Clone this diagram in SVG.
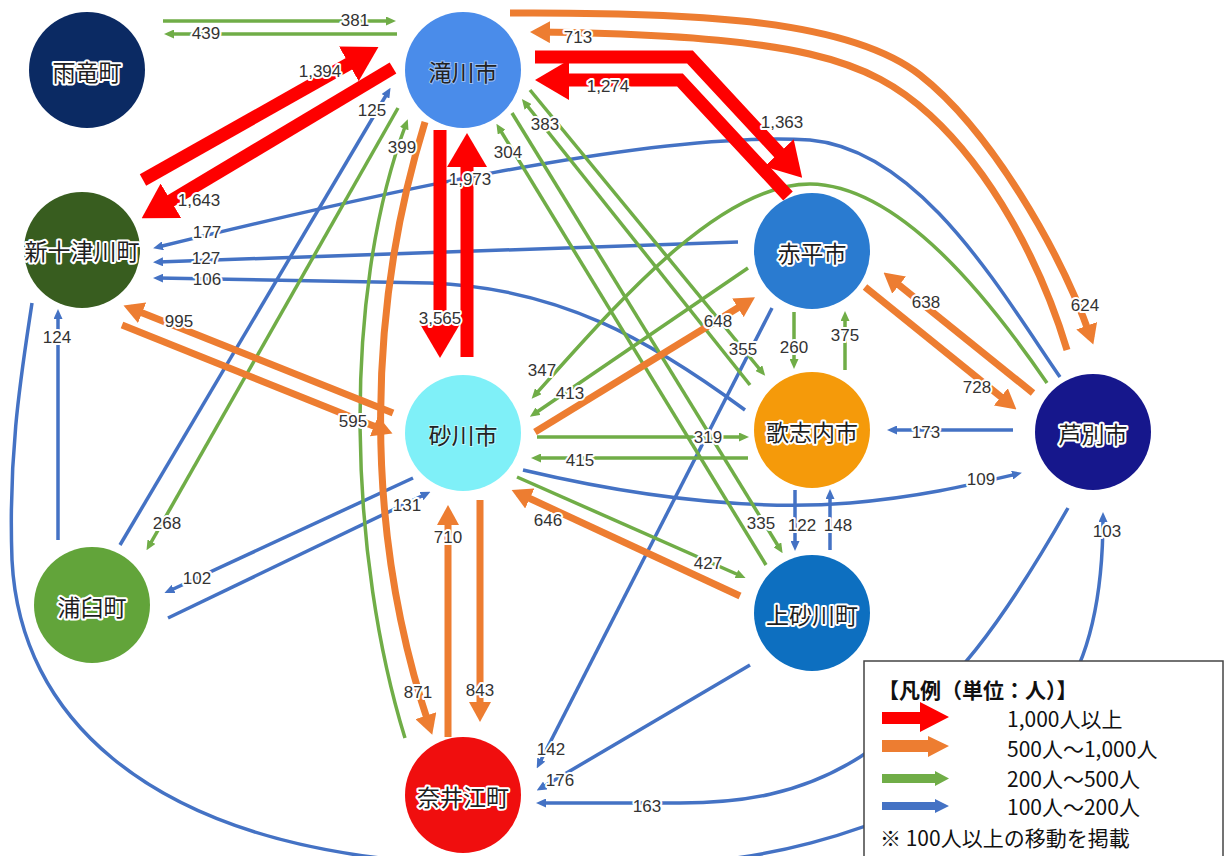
<svg xmlns="http://www.w3.org/2000/svg" width="1227" height="856" viewBox="0 0 1227 856">
  <defs>
    <style>
      .b { fill: none; stroke: #4472c4; stroke-width: 3.5; marker-end: url(#mB); }
      .g { fill: none; stroke: #70ad47; stroke-width: 3.5; marker-end: url(#mG); }
      .o { fill: none; stroke: #ed7d31; stroke-width: 7; marker-end: url(#mO); }
      .r { fill: none; stroke: #fe0000; stroke-width: 13; marker-end: url(#mR); }
      .nobar { marker-end: none; }
      .lbl { font-family: "Liberation Sans", "DejaVu Sans", sans-serif; font-size: 17px; fill: #333; text-anchor: middle; dominant-baseline: central; stroke: #fff; stroke-width: 4; stroke-linejoin: round; paint-order: stroke; }
      .nt { font-family: "Noto Sans CJK JP", "Noto Sans", sans-serif; font-size: 23px; fill: #1e1e1e; text-anchor: middle; dominant-baseline: central; stroke: #fff; stroke-width: 4; stroke-linejoin: round; paint-order: stroke; }
      .nt0 { font-family: "Noto Sans CJK JP", "Noto Sans", sans-serif; font-size: 23px; fill: #222; text-anchor: middle; dominant-baseline: central; stroke: #fff; stroke-opacity: 0.45; stroke-width: 2; paint-order: stroke; }
      .lg { font-family: "Noto Sans CJK JP", "Noto Sans", sans-serif; font-size: 21px; fill: #111; }
    </style>
    <marker id="mR" markerUnits="userSpaceOnUse" viewBox="0 0 34 40" markerWidth="34" markerHeight="40" refX="22" refY="20" orient="auto">
      <path d="M0,0 L34,20 L0,40 Z" fill="#fe0000"/>
    </marker>
    <marker id="mO" markerUnits="userSpaceOnUse" viewBox="0 0 20 22" markerWidth="20" markerHeight="22" refX="13" refY="11" orient="auto">
      <path d="M0,0 L20,11 L0,22 Z" fill="#ed7d31"/>
    </marker>
    <marker id="mG" markerUnits="userSpaceOnUse" viewBox="0 0 10 9" markerWidth="10" markerHeight="9" refX="5" refY="4.5" orient="auto">
      <path d="M0,0 L10,4.5 L0,9 Z" fill="#70ad47"/>
    </marker>
    <marker id="mB" markerUnits="userSpaceOnUse" viewBox="0 0 10 9" markerWidth="10" markerHeight="9" refX="5" refY="4.5" orient="auto">
      <path d="M0,0 L10,4.5 L0,9 Z" fill="#4472c4"/>
    </marker>
  </defs>

  <rect width="1227" height="856" fill="#fff"/>

  <!-- flows between towns -->
  <g id="connectors">
    <!-- 100-200 -->
    <path class="b" d="M1060,377 C1000,290 920,150 810,140 C650,130 350,200 158,247"/>
    <path class="b" d="M738,242 L158,262"/>
    <path class="b" d="M745,410 C650,340 560,288 430,283 L158,278"/>
    <path class="b" d="M120,545 L388,92"/>
    <path class="b" d="M58,540 L58,314"/>
    <path class="b" d="M32,303 C22,370 8,450 12,560 C20,720 150,830 380,858 L700,862 C850,850 1000,780 1060,700 C1095,650 1103,580 1103,517"/>
    <path class="b" d="M1068,508 C1010,610 950,700 860,757 C800,795 740,803 680,803 L541,803"/>
    <path class="b" d="M772,308 L539,764"/>
    <path class="b" d="M750,665 L541,788"/>
    <path class="b" d="M168,618 L426,494"/>
    <path class="b" d="M413,478 L169,591"/>
    <path class="b" d="M523,470 C650,500 760,510 850,503 C920,497 970,485 1017,474"/>
    <path class="b" d="M1013,430 L892,430"/>
    <path class="b" d="M795,490 L795,546"/>
    <path class="b" d="M830,550 L830,494"/>

    <!-- 200-500 -->
    <path class="g" d="M163,21 L391,21"/>
    <path class="g" d="M397,34 L169,34"/>
    <path class="g" d="M405,738 C350,560 340,300 406,124"/>
    <path class="g" d="M398,108 L149,546"/>
    <path class="g" d="M750,385 L525,103"/>
    <path class="g" d="M530,90 L762,372"/>
    <path class="g" d="M766,565 L499,128"/>
    <path class="g" d="M512,113 L780,549"/>
    <path class="g" d="M1047,383 C990,300 900,185 810,184 C720,184 620,300 535,395"/>
    <path class="g" d="M748,268 L534,414"/>
    <path class="g" d="M537,437 L744,437"/>
    <path class="g" d="M748,458 L536,458"/>
    <path class="g" d="M517,477 L741,576"/>
    <path class="g" d="M794,312 L794,364"/>
    <path class="g" d="M845,370 L845,316"/>

    <!-- 500-1,000 -->
    <path class="o" d="M510,13 C700,12 850,20 920,75 C990,130 1060,250 1091,338"/>
    <path class="o" d="M1067,350 C1040,260 990,170 930,115 C870,60 800,35 537,32"/>
    <path class="o" d="M393,413 L130,308"/>
    <path class="o" d="M122,325 L386,431"/>
    <path class="o" d="M425,122 C370,300 360,520 430,728"/>
    <path class="o" d="M448,737 L448,512"/>
    <path class="o" d="M480,500 L480,715"/>
    <path class="o" d="M740,596 L518,493"/>
    <path class="o" d="M535,432 L749,301"/>
    <path class="o" d="M1033,393 L889,277"/>
    <path class="o" d="M865,287 L1011,405"/>

    <!-- 1,000 and over -->
    <path class="r" d="M143,180 L368,53"/>
    <path class="r" d="M393,68 L152,212"/>
    <path class="r" d="M535,57 L690,57 L794,169"/>
    <path class="r" d="M788,196 L680,80 L547,80"/>
    <path class="r" d="M440,130 L440,346"/>
    <path class="r" d="M467,357 L467,145"/>

    <!-- counts -->
    <g>
      <text class="lbl" x="355" y="20">381</text>
      <text class="lbl" x="206" y="33">439</text>
      <text class="lbl" x="320" y="71">1,394</text>
      <text class="lbl" x="199" y="200">1,643</text>
      <text class="lbl" x="207" y="232">177</text>
      <text class="lbl" x="206" y="258">127</text>
      <text class="lbl" x="207" y="279">106</text>
      <text class="lbl" x="372" y="110">125</text>
      <text class="lbl" x="402" y="147">399</text>
      <text class="lbl" x="57" y="337">124</text>
      <text class="lbl" x="179" y="321">995</text>
      <text class="lbl" x="353" y="421">595</text>
      <text class="lbl" x="167" y="523">268</text>
      <text class="lbl" x="407" y="505">131</text>
      <text class="lbl" x="197" y="578">102</text>
      <text class="lbl" x="440" y="318">3,565</text>
      <text class="lbl" x="470" y="179">1,973</text>
      <text class="lbl" x="578" y="37">713</text>
      <text class="lbl" x="608" y="86">1,274</text>
      <text class="lbl" x="782" y="122">1,363</text>
      <text class="lbl" x="545" y="124">383</text>
      <text class="lbl" x="508" y="152">304</text>
      <text class="lbl" x="542" y="370">347</text>
      <text class="lbl" x="570" y="393">413</text>
      <text class="lbl" x="718" y="321">648</text>
      <text class="lbl" x="743" y="349">355</text>
      <text class="lbl" x="794" y="347">260</text>
      <text class="lbl" x="845" y="335">375</text>
      <text class="lbl" x="708" y="437">319</text>
      <text class="lbl" x="580" y="460">415</text>
      <text class="lbl" x="548" y="520">646</text>
      <text class="lbl" x="761" y="523">335</text>
      <text class="lbl" x="708" y="563">427</text>
      <text class="lbl" x="802" y="525">122</text>
      <text class="lbl" x="838" y="525">148</text>
      <text class="lbl" x="926" y="302">638</text>
      <text class="lbl" x="977" y="387">728</text>
      <text class="lbl" x="1085" y="305">624</text>
      <text class="lbl" x="926" y="432">173</text>
      <text class="lbl" x="981" y="479">109</text>
      <text class="lbl" x="1107" y="531">103</text>
      <text class="lbl" x="448" y="537">710</text>
      <text class="lbl" x="418" y="692">871</text>
      <text class="lbl" x="480" y="690">843</text>
      <text class="lbl" x="551" y="749">142</text>
      <text class="lbl" x="560" y="780">176</text>
      <text class="lbl" x="647" y="806">163</text>
    </g>
  </g>

  <!-- towns -->
  <g id="n-uryu">
    <circle cx="87" cy="70" r="58" fill="#0b2a63"/>
    <text class="nt" x="87" y="71">雨竜町</text>
  </g>
  <g id="n-takikawa">
    <circle cx="463" cy="70" r="58" fill="#4a8cea"/>
    <text class="nt0" x="463" y="71">滝川市</text>
  </g>
  <g id="n-shintotsukawa">
    <circle cx="82" cy="250" r="58" fill="#385d1f"/>
    <text class="nt" x="82" y="250">新十津川町</text>
  </g>
  <g id="n-akabira">
    <circle cx="812" cy="251" r="58" fill="#2a7bd0"/>
    <text class="nt" x="812" y="252">赤平市</text>
  </g>
  <g id="n-sunagawa">
    <circle cx="463" cy="433" r="58" fill="#7ff0f8"/>
    <text class="nt0" x="463" y="434">砂川市</text>
  </g>
  <g id="n-utashinai">
    <circle cx="812" cy="430" r="58" fill="#f59a0a"/>
    <text class="nt" x="812" y="431">歌志内市</text>
  </g>
  <g id="n-ashibetsu">
    <circle cx="1093" cy="432" r="58" fill="#16178c"/>
    <text class="nt" x="1093" y="433">芦別市</text>
  </g>
  <g id="n-urausu">
    <circle cx="92" cy="605" r="58" fill="#62a43a"/>
    <text class="nt" x="92" y="606">浦臼町</text>
  </g>
  <g id="n-kamisunagawa">
    <circle cx="812" cy="613" r="58" fill="#0d6fc0"/>
    <text class="nt" x="812" y="614">上砂川町</text>
  </g>
  <g id="n-naie">
    <circle cx="463" cy="795" r="58" fill="#f00e0e"/>
    <text class="nt" x="463" y="796">奈井江町</text>
  </g>

  <!-- legend -->
  <g id="legend">
    <rect x="864" y="661" width="359" height="200" fill="#fff" stroke="#444" stroke-width="1.5"/>
    <text class="lg" x="878" y="698" font-weight="bold">【凡例（単位：人）】</text>
    <polygon points="882,712 920,712 920,702 949,717 920,732 920,724 882,724" fill="#fe0000"/>
    <polygon points="882,740 928,740 928,736 949,746 928,757 928,752 882,752" fill="#ed7d31"/>
    <polygon points="882,774 935,774 935,771 949,778.5 935,786 935,783 882,783" fill="#70ad47"/>
    <polygon points="882,802 935,802 935,799 949,806 935,813 935,810 882,810" fill="#4472c4"/>
    <text class="lg" x="1007" y="727">1,000人以上</text>
    <text class="lg" x="1007" y="757">500人～1,000人</text>
    <text class="lg" x="1007" y="787">200人～500人</text>
    <text class="lg" x="1007" y="815">100人～200人</text>
    <text class="lg" x="880" y="846">※ 100人以上の移動を掲載</text>
  </g>
</svg>
